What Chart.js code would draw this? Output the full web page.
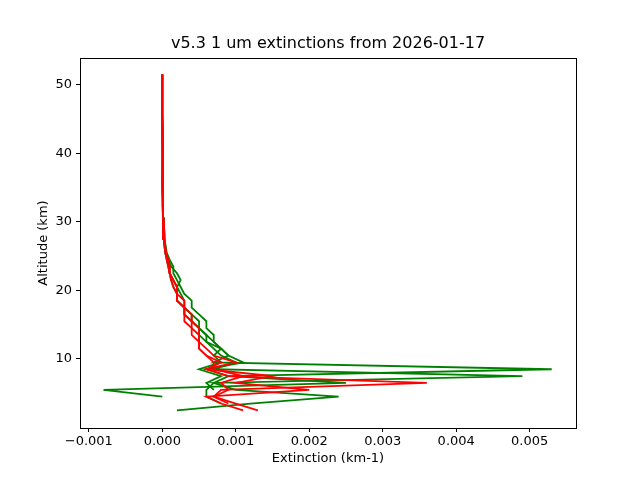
<!DOCTYPE html>
<html><head><script src="https://cdn.jsdelivr.net/npm/chart.js@4"></script>
<style>body{margin:0;background:#fff}#w{width:640px;height:480px}</style></head>
<body><div id="w"><canvas id="c"></canvas></div>
<script>
const altitudes=[2.5,3.5,4.5,5.5,6.5,7.5,8.5,9.5,10.5,11.5,12.5,13.5,14.5,15.5,16.5,17.5,18.5,19.5,20.5,21.5,22.5,23.5,24.5,25.5,27.5,30.5,32.5,35.5,40.5,45.5,51.5];
const green1=[0.0002,0.0012,0.0024,0.0010,0.0007,0.0049,0.0007,0.0010,0.0008,0.0007,0.0006,0.0006,0.0005,0.0005,0.0004,0.0003,0.0003,0.00025,0.0002,0.00015,0.0001,0.0001,0.00008,0.00005,0.00003,0.00002,0.00001,0.00001,0.00001,0.0,0.0];
const green2=[null,null,0.0000,-0.0008,0.0025,0.0009,0.0053,0.0007,0.0009,0.0008,0.0007,0.0006,0.0005,0.0004,0.0004,0.0003,0.0002,0.0002,0.00015,0.00012,0.0001,0.00008,0.00006,0.00004,0.00002,0.00001,0.00001,0.0,0.0,0.0,0.0];
const green3=[null,0.0008,0.0006,0.0006,0.0007,0.0009,0.0006,0.0011,0.0009,0.0008,0.0007,0.0007,0.0006,0.0006,0.0005,0.0004,0.0004,0.0003,0.00025,0.0002,0.00015,0.00015,0.0001,0.00006,0.00003,0.00002,0.00001,0.00001,0.0,0.0,0.0];
const green4=[null,null,null,0.0007,0.0006,0.0008,0.0005,0.0008,0.0007,0.0008,0.0006,0.0005,0.0005,0.0004,0.0003,0.0003,0.0002,0.0002,0.0002,0.00025,0.0002,0.00012,0.00008,0.00004,0.00002,0.00001,0.0,0.0,0.00001,0.0,0.0];
const red1=[0.0013,0.0010,0.0007,0.0008,0.0036,0.0009,0.0006,0.0010,0.0007,0.0006,0.0005,0.0005,0.0005,0.0004,0.0004,0.0003,0.0003,0.0002,0.0002,0.00015,0.0001,0.0001,0.00008,0.00005,0.00003,0.00002,0.00001,0.00001,0.00001,0.0,0.0];
const red2=[0.0011,0.0008,0.0006,0.0020,0.0010,0.0015,0.0006,0.0008,0.0006,0.0005,0.0005,0.0004,0.0004,0.0004,0.0003,0.0003,0.0002,0.0002,0.00015,0.00012,0.0001,0.00008,0.00006,0.00004,0.00002,0.00001,0.00001,0.0,0.0,0.0,0.0];
const red3=[null,0.0009,0.0007,0.0009,0.0008,0.0011,0.0007,0.0007,0.0006,0.0005,0.0005,0.0005,0.0004,0.0003,0.0003,0.0003,0.0002,0.0002,0.0002,0.00015,0.0001,0.0001,0.00008,0.00005,0.00002,0.00001,0.00001,0.0,0.00001,0.0,0.0];
const xTicks=[-0.001,0,0.001,0.002,0.003,0.004,0.005];
const yTicks=[10,20,30,40,50];
const series=[[red1,'#ff0000'],[red2,'#ff0000'],[red3,'#ff0000'],[green1,'#008000'],[green2,'#008000'],[green3,'#008000'],[green4,'#008000']];
const datasets=series.map(([v,c])=>({data:altitudes.map((a,i)=>v[i]===null?null:{x:v[i],y:a}).filter(p=>p),borderColor:c,borderWidth:1.8,showLine:true,pointRadius:0,fill:false,tension:0}));
const F='DejaVu Sans';
const box={id:'box',afterDraw(ch){const {ctx,chartArea:a}=ch;ctx.save();ctx.strokeStyle='#000';ctx.lineWidth=1;ctx.strokeRect(a.left+0.5,a.top+0.5,a.right-a.left,a.bottom-a.top);ctx.fillStyle='#000';ctx.font='16px '+F;ctx.textAlign='center';ctx.textBaseline='bottom';ctx.fillText('v5.3 1 um extinctions from 2026-01-17',(a.left+a.right)/2,a.top-6);ctx.restore();}};
const tk=(arr)=>function(ax){ax.ticks=arr.map(v=>({value:v}));};
new Chart(document.getElementById('c'),{type:'scatter',data:{datasets},plugins:[box],
options:{responsive:true,maintainAspectRatio:false,animation:false,layout:{padding:{top:58,right:64,left:32,bottom:10}},
plugins:{legend:{display:false},tooltip:{enabled:false}},
scales:{x:{type:'linear',min:-0.00112,max:0.00563,afterBuildTicks:tk(xTicks),afterFit(s){s.height=42;},
grid:{drawOnChartArea:false,tickLength:4,color:'#000'},border:{color:'#000'},
ticks:{color:'#000',font:{family:F,size:13},padding:2,maxRotation:0,callback:v=>v.toFixed(3).replace('-','−')},
title:{display:true,text:'Extinction (km-1)',color:'#000',font:{family:F,size:13},padding:{top:0}}},
y:{type:'linear',min:-0.07,max:53.9,afterBuildTicks:tk(yTicks),afterFit(s){s.width=48;},
grid:{drawOnChartArea:false,tickLength:4,color:'#000'},border:{color:'#000'},
ticks:{color:'#000',font:{family:F,size:13},padding:4,callback:v=>String(v)},
title:{display:true,text:'Altitude (km)',color:'#000',font:{family:F,size:13},padding:{bottom:0}}}}}});
</script></body></html>
